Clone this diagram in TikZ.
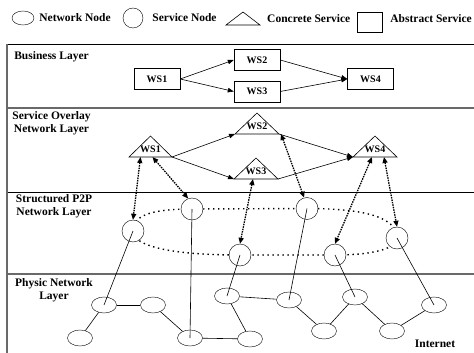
\documentclass[tikz,border=0pt]{standalone}
\usepackage{fontspec}
\setmainfont{Liberation Serif}
\usetikzlibrary{arrows.meta, positioning, shapes.geometric, backgrounds}
\definecolor{meucinza}{RGB}{105, 105, 105}
\newcommand{\wsfonte}{\fontsize{10}{12}\selectfont\bfseries}

\begin{document}
\begin{tikzpicture}[
    x=1pt, y=-1pt,
    font=\fontsize{11.5}{13}\selectfont\bfseries,
    absbox/.style={draw, minimum width=46pt, minimum height=21pt, inner sep=0pt, font=\wsfonte},
    concrete/.style={line width=0.6pt},
    wstxt/.style={inner sep=0pt, font=\wsfonte},
    svcnode/.style={draw, circle, minimum size=22pt, inner sep=0pt, fill=white},
    netnode/.style={draw, ellipse, minimum width=25pt, minimum height=16pt, inner sep=0pt, fill=white},
    layertxt/.style={align=center, inner sep=0pt},
    legtxt/.style={inner sep=0pt},
    seta/.style={-{Triangle[length=6pt, width=4.5pt]}, line width=0.6pt},
    mapa/.style={{Triangle[length=6pt, width=5pt]}-{Triangle[length=6pt, width=5pt]},
                 line width=1.3pt, dash pattern=on 1.5pt off 1pt},
    anel/.style={line width=1.4pt, dash pattern=on 1.4pt off 3.6pt},
    liga/.style={line width=0.6pt},
]
\useasboundingbox (0,0) rectangle (474,353);

% ── Legenda ─────────────────────────────────────────
\node[netnode, minimum width=22pt, minimum height=14pt] (legnet) at (23,18) {};
\node[legtxt, right=5pt of legnet] (legnettxt) {Network Node};
\node[svcnode, minimum size=20pt] (legsvc) at (133,18) {};
\node[legtxt, right=9pt of legsvc] (legsvctxt) {Service Node};
\draw[concrete] (226,25) -- (243,12) -- (260,25) -- cycle;
\node[legtxt, anchor=west] (legcontxt) at (267,18.5) {Concrete Service};
\node[draw, minimum width=25pt, minimum height=20pt, inner sep=0pt] (legabs) at (369.5,22) {};
\node[legtxt, right=8pt of legabs.east |- legcontxt] (legabstxt) {Abstract Service};

% ── Moldura e camadas ───────────────────────────────
\draw[line width=0.7pt] (7,44) -- (474,44);
\draw[meucinza, line width=1.1pt] (7,108) -- (474,108);
\draw[line width=0.7pt] (7,192) -- (474,192);
\draw[meucinza, line width=1.5pt] (7,274) -- (474,274);
\draw[meucinza, line width=1.2pt] (7,44) -- (7,353);

\node[layertxt] (lbus) at (51.5,57) {Business Layer};
\node[layertxt] (lsov) at (51.5,123.5) {Service Overlay\\Network Layer};
\node[layertxt] (lp2p) at (54,206.5) {Structured P2P\\Network Layer};
\node[layertxt] (lphy) at (54,290.5) {Physic Network\\Layer};
\node[layertxt] (linet) at (435,344) {Internet};

% ── Business Layer ──────────────────────────────────
\node[absbox] (b1) at (157,79)   {WS1};
\node[absbox] (b2) at (257,60)   {WS2};
\node[absbox] (b3) at (257,91.5) {WS3};
\node[absbox] (b4) at (370.5,79) {WS4};

\draw[seta] (b1.east) -- (b2.west);
\draw[seta] (b1.east) -- (b3.west);
\draw[seta] (b2.east) -- (b4.west);
\draw[seta] (b3.east) -- (b4.west);

% ── Service Overlay Network Layer ───────────────────
% triangulos: centro da base, cantos w/e
\coordinate (o1) at (150.5,157);
\coordinate (o2) at (257,134);
\coordinate (o3) at (256,179);
\coordinate (o4) at (375,157);
\draw[concrete] (o1) ++(-21.5,0) coordinate (o1w) -- ++(21.5,-21) -- ++(21.5,21) coordinate (o1e) -- cycle;
\draw[concrete] (o2) ++(-22,0) coordinate (o2w) -- ++(22,-21) -- ++(22,21) coordinate (o2e) -- cycle;
\draw[concrete] (o3) ++(-22,0) coordinate (o3w) -- ++(22,-21) -- ++(22,21) coordinate (o3e) -- cycle;
\draw[concrete] (o4) ++(-22,0) coordinate (o4w) -- ++(22,-21) -- ++(22,21) coordinate (o4e) -- cycle;
\node[wstxt] (o1t) at ([yshift=7.5pt]o1) {WS1};
\node[wstxt] (o2t) at ([yshift=7.5pt]o2) {WS2};
\node[wstxt] (o3t) at ([yshift=7.5pt]o3) {WS3};
\node[wstxt] (o4t) at ([yshift=7.5pt]o4) {WS4};

\draw[seta] (o1e) -- (o2w);
\draw[seta] (o1e) -- (o3w);
\draw[seta] (o2e) -- (o4w);
\draw[seta] (o3e) -- (o4w);

% ── Structured P2P Network Layer ────────────────────
\node[svcnode] (c1) at (133,231) {};
\node[svcnode] (c2) at (192,209) {};
\node[svcnode] (c3) at (240,255) {};
\node[svcnode] (c4) at (307,208.5) {};
\node[svcnode] (c5) at (335,255) {};
\node[svcnode] (c6) at (397,238) {};

\begin{scope}[on background layer]
\draw[anel] (c1.center)
    .. controls ([yshift=14pt]c1.center) and ([xshift=-45pt]c2.center) .. (c2.center)
    -- (c4.center)
    .. controls ([xshift=60pt]c4.center) and ([yshift=20pt]c6.center) .. (c6.center)
    .. controls ([yshift=-10pt]c6.center) and ([xshift=40pt]c5.center) .. (c5.center)
    -- (c3.center)
    .. controls ([xshift=-70pt]c3.center) and ([yshift=-15pt]c1.center) .. (c1.center) -- cycle;
\end{scope}

% mapeamento servico -> no
\draw[mapa] ([xshift=-10pt]o1) -- (c1.north);
\draw[mapa] ([xshift=2pt]o1)   -- (c2.110);
\draw[mapa] ([xshift=-3pt]o3)  -- (c3.north);
\draw[mapa] ([xshift=24pt]o2)  -- (c4.105);
\draw[mapa] ([xshift=-3pt]o4)  -- (c5.north);
\draw[mapa] ([xshift=9pt]o4)   -- (c6.north);

% ── Physic Network Layer ────────────────────────────
\node[netnode] (n1)  at (104,305) {};
\node[netnode] (n2)  at (153,305) {};
\node[netnode] (n3)  at (80,338)  {};
\node[netnode] (n4)  at (190,338) {};
\node[netnode] (n5)  at (250,339) {};
\node[netnode] (n6)  at (227,296) {};
\node[netnode] (n7)  at (289,300) {};
\node[netnode] (n8)  at (355,297) {};
\node[netnode] (n9)  at (324,331) {};
\node[netnode] (n10) at (392,331) {};
\node[netnode] (n11) at (434,305) {};

\draw[liga] (n1) -- (n2);
\draw[liga] (n1) -- (n3);
\draw[liga] (n2) -- (n4);
\draw[liga] (n4) -- (n5);
\draw[liga] (n5) -- (n6);
\draw[liga] (n6) -- (n7);
\draw[liga] (n7) -- (n9);
\draw[liga] (n9) -- (n8);
\draw[liga] (n8) -- (n10);
\draw[liga] (n10) -- (n11);

% ligacoes P2P -> fisico
\draw[liga] (c1.center) -- (n1.center);
\draw[liga] (c2.center) -- (n4.center);
\draw[liga] (c3.center) -- (n6.center);
\draw[liga] (c4.center) -- (n7.center);
\draw[liga] (c5.center) -- (n8.center);
\draw[liga] (c6.center) -- (n11.center);

\end{tikzpicture}
\end{document}
